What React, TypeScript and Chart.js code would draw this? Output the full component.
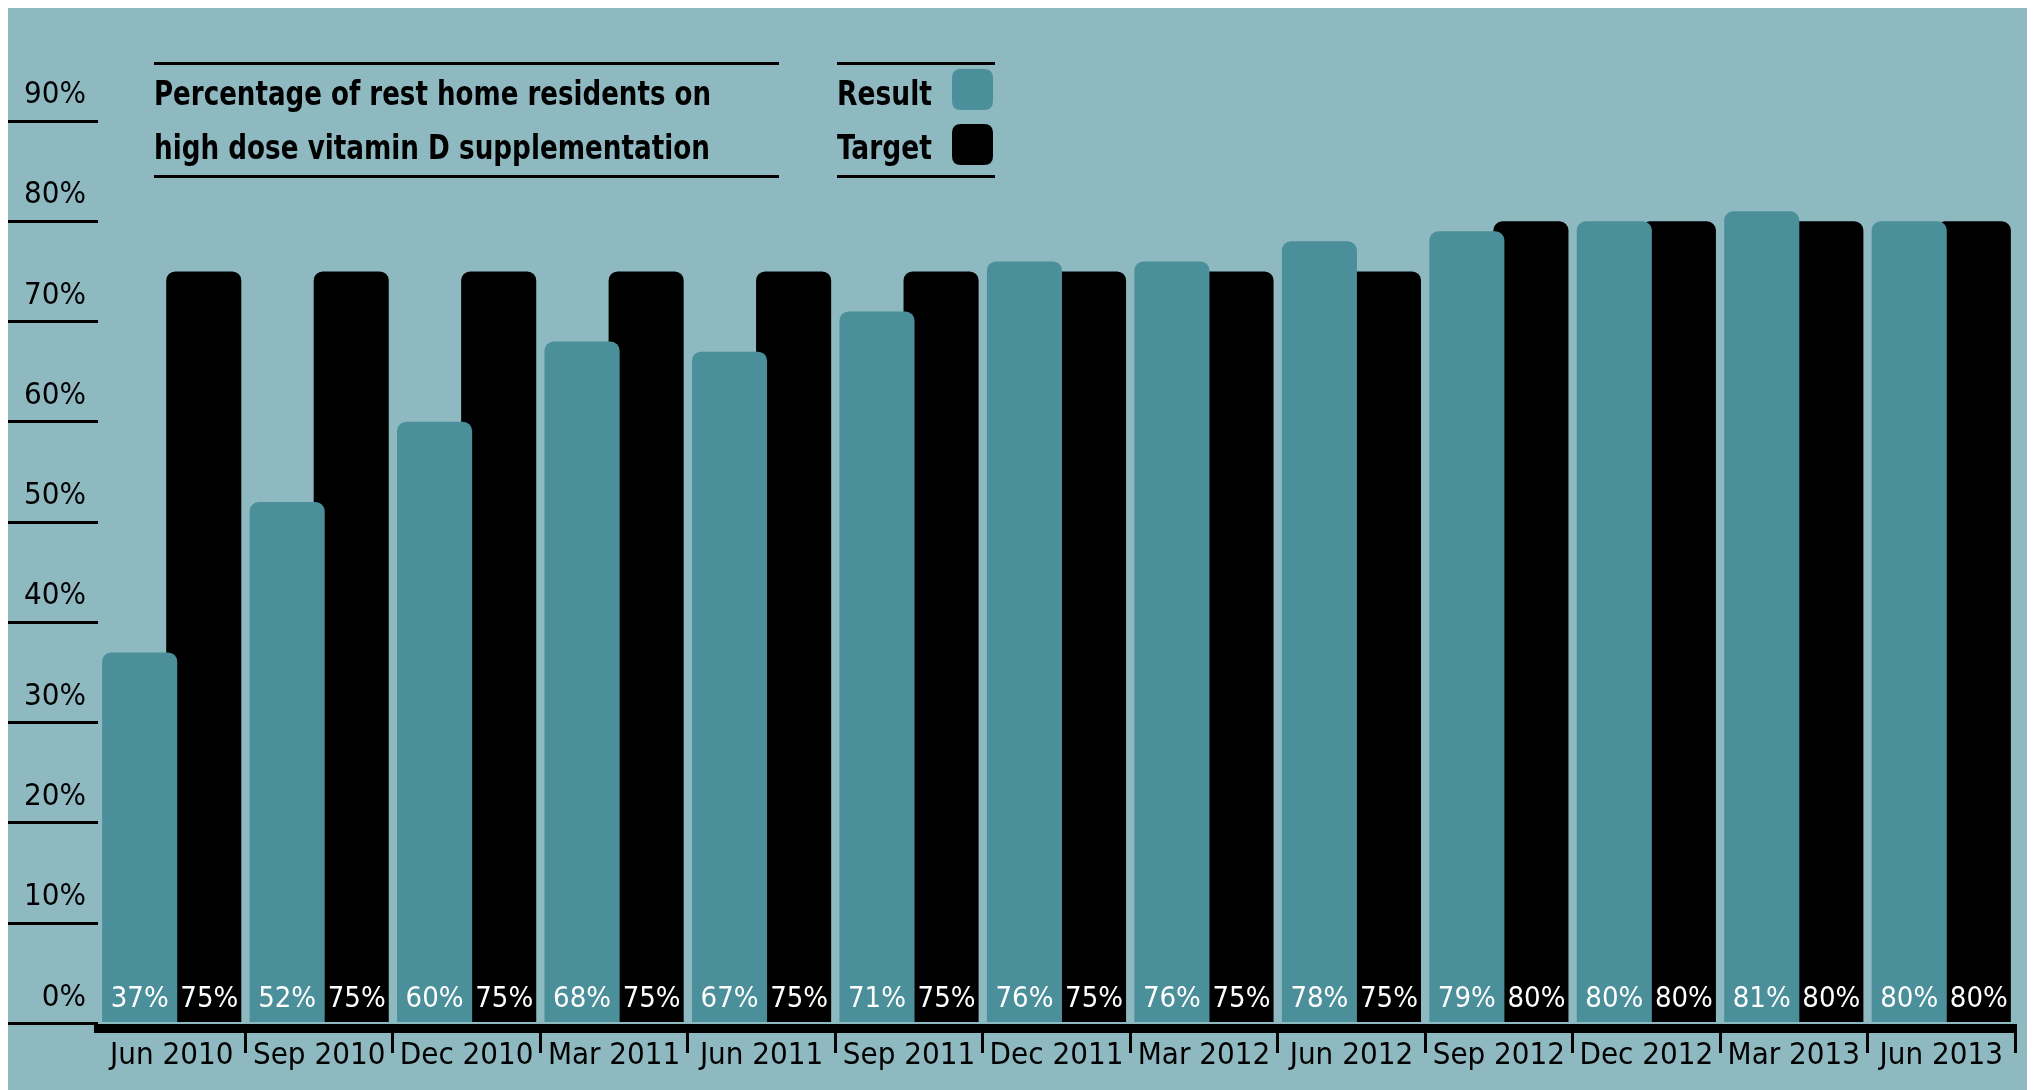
import React, { useEffect, useRef } from "react";
import { Chart, registerables } from "chart.js";

Chart.register(...registerables);

const categories = [
  "Jun 2010", "Sep 2010", "Dec 2010", "Mar 2011", "Jun 2011", "Sep 2011", "Dec 2011",
  "Mar 2012", "Jun 2012", "Sep 2012", "Dec 2012", "Mar 2013", "Jun 2013",
];
const resultValues = [37, 52, 60, 68, 67, 71, 76, 76, 78, 79, 80, 81, 80];
const targetValues = [75, 75, 75, 75, 75, 75, 75, 75, 75, 80, 80, 80, 80];
const yTickValues = [0, 10, 20, 30, 40, 50, 60, 70, 80, 90];
const seriesNames = ["Result", "Target"];
const titleLines = ["Percentage of rest home residents on", "high dose vitamin D supplementation"];

const BG = "#8fb9c1";
const TEAL = "#4a8f99";
const BLACK = "#000000";
const WHITE = "#ffffff";
const FONT = "'Liberation Sans Narrow', 'Arial Narrow', 'DejaVu Sans Condensed', sans-serif";

const CANVAS_W = 2019;
const CANVAS_H = 1082;

function roundRect(ctx: CanvasRenderingContext2D, x: number, y: number, w: number, h: number, r: number) {
  ctx.beginPath();
  ctx.moveTo(x + r, y);
  ctx.lineTo(x + w - r, y);
  ctx.quadraticCurveTo(x + w, y, x + w, y + r);
  ctx.lineTo(x + w, y + h - r);
  ctx.quadraticCurveTo(x + w, y + h, x + w - r, y + h);
  ctx.lineTo(x + r, y + h);
  ctx.quadraticCurveTo(x, y + h, x, y + h - r);
  ctx.lineTo(x, y + r);
  ctx.quadraticCurveTo(x, y, x + r, y);
  ctx.closePath();
}

const backgroundPlugin = {
  id: "bgFill",
  beforeDraw(chart: any) {
    const ctx = chart.ctx;
    ctx.save();
    ctx.fillStyle = BG;
    ctx.fillRect(0, 0, chart.width, chart.height);
    ctx.restore();
  },
};

const valueLabelPlugin = {
  id: "valueLabels",
  afterDatasetsDraw(chart: any) {
    const ctx = chart.ctx;
    const yScale = chart.scales.y;
    const y0 = yScale.getPixelForValue(0);
    const m0 = chart.getDatasetMeta(0);
    const m1 = chart.getDatasetMeta(1);
    ctx.save();
    ctx.fillStyle = WHITE;
    ctx.font = `29px ${FONT}`;
    ctx.textAlign = "center";
    ctx.textBaseline = "middle";
    const ly = y0 - 24;
    m0.data.forEach((el: any, i: number) => {
      const p = el.getProps(["x", "width"], true);
      ctx.fillText(`${chart.data.datasets[0].data[i]}%`, p.x, ly);
    });
    m1.data.forEach((el: any, i: number) => {
      const p = el.getProps(["x", "width"], true);
      const t = m0.data[i].getProps(["x", "width"], true);
      const left = t.x + t.width / 2;
      const right = p.x + p.width / 2;
      ctx.fillText(`${chart.data.datasets[1].data[i]}%`, (left + right) / 2, ly);
    });
    ctx.restore();
  },
};

const headerPlugin = {
  id: "header",
  afterDraw(chart: any) {
    const ctx = chart.ctx;
    ctx.save();
    ctx.strokeStyle = BLACK;
    ctx.lineWidth = 3;
    const rule = (x1: number, x2: number, y: number) => {
      ctx.beginPath();
      ctx.moveTo(x1, y);
      ctx.lineTo(x2, y);
      ctx.stroke();
    };
    // Title block
    rule(146, 771, 55.5);
    rule(146, 771, 168.5);
    ctx.fillStyle = BLACK;
    ctx.font = `bold 33px ${FONT}`;
    ctx.textAlign = "left";
    ctx.textBaseline = "alphabetic";
    ctx.fillText(titleLines[0], 146, 97, 557);
    ctx.fillText(titleLines[1], 146, 150.5, 556);
    // Legend block
    rule(829, 987, 55.5);
    rule(829, 987, 168.5);
    const ds = chart.data.datasets;
    const rows = [
      { y: 97, sy: 61 },
      { y: 150.5, sy: 116 },
    ];
    rows.forEach((r, i) => {
      ctx.fillStyle = BLACK;
      ctx.fillText(ds[i].label, 829, r.y, 95);
      ctx.fillStyle = ds[i].backgroundColor;
      roundRect(ctx, 944, r.sy, 41, 41, 9);
      ctx.fill();
    });
    ctx.restore();
  },
};

export default function App() {
  const canvasRef = useRef<HTMLCanvasElement | null>(null);

  useEffect(() => {
    document.documentElement.style.overflow = "hidden";
    const canvas = canvasRef.current;
    if (!canvas) return;
    const tickFont = { family: FONT, size: 31, weight: "normal" as const };
    const chart = new Chart(canvas, {
      type: "bar",
      data: {
        labels: categories,
        datasets: [
          {
            label: seriesNames[0],
            data: resultValues,
            backgroundColor: TEAL,
            borderWidth: 0,
            borderRadius: 9,
            borderSkipped: "start",
            categoryPercentage: 0.869,
            barPercentage: 1.172,
          },
          {
            label: seriesNames[1],
            data: targetValues,
            backgroundColor: BLACK,
            borderWidth: 0,
            borderRadius: 9,
            borderSkipped: "start",
            categoryPercentage: 0.869,
            barPercentage: 1.172,
          },
        ],
      },
      options: {
        responsive: false,
        animation: false,
        devicePixelRatio: 1,
        layout: { padding: { top: 113, right: 12, bottom: 0, left: 0 } },
        plugins: {
          legend: { display: false },
          tooltip: { enabled: false },
          title: { display: false },
        },
        scales: {
          x: {
            type: "category",
            offset: true,
            grid: {
              display: true,
              offset: true,
              drawOnChartArea: false,
              drawTicks: true,
              tickLength: 25,
              lineWidth: 3,
              color: (c: any) => (c.index === 0 ? "rgba(0,0,0,0)" : BLACK),
            },
            border: { display: true, width: 9, color: BLACK },
            ticks: {
              color: BLACK,
              font: tickFont,
              padding: -16,
              maxRotation: 0,
              minRotation: 0,
              autoSkip: false,
            },
            afterFit: (s: any) => {
              s.height = 62;
            },
          },
          y: {
            type: "linear",
            min: -0.449,
            max: 90,
            afterBuildTicks: (s: any) => {
              s.ticks = yTickValues.map((v) => ({ value: v }));
            },
            grid: {
              display: true,
              drawOnChartArea: false,
              drawTicks: true,
              tickLength: 90,
              lineWidth: 3,
              color: BLACK,
            },
            border: { display: false },
            ticks: {
              color: BLACK,
              font: tickFont,
              padding: -78,
              labelOffset: -26,
              callback: (v: any) => `${v}%`,
            },
            afterFit: (s: any) => {
              s.width = 90;
            },
          },
        },
      } as any,
      plugins: [backgroundPlugin, valueLabelPlugin, headerPlugin],
    });
    return () => {
      chart.destroy();
    };
  }, []);

  return (
    <canvas
      ref={canvasRef}
      width={CANVAS_W}
      height={CANVAS_H}
      style={{ display: "block", width: CANVAS_W, height: CANVAS_H }}
    />
  );
}
